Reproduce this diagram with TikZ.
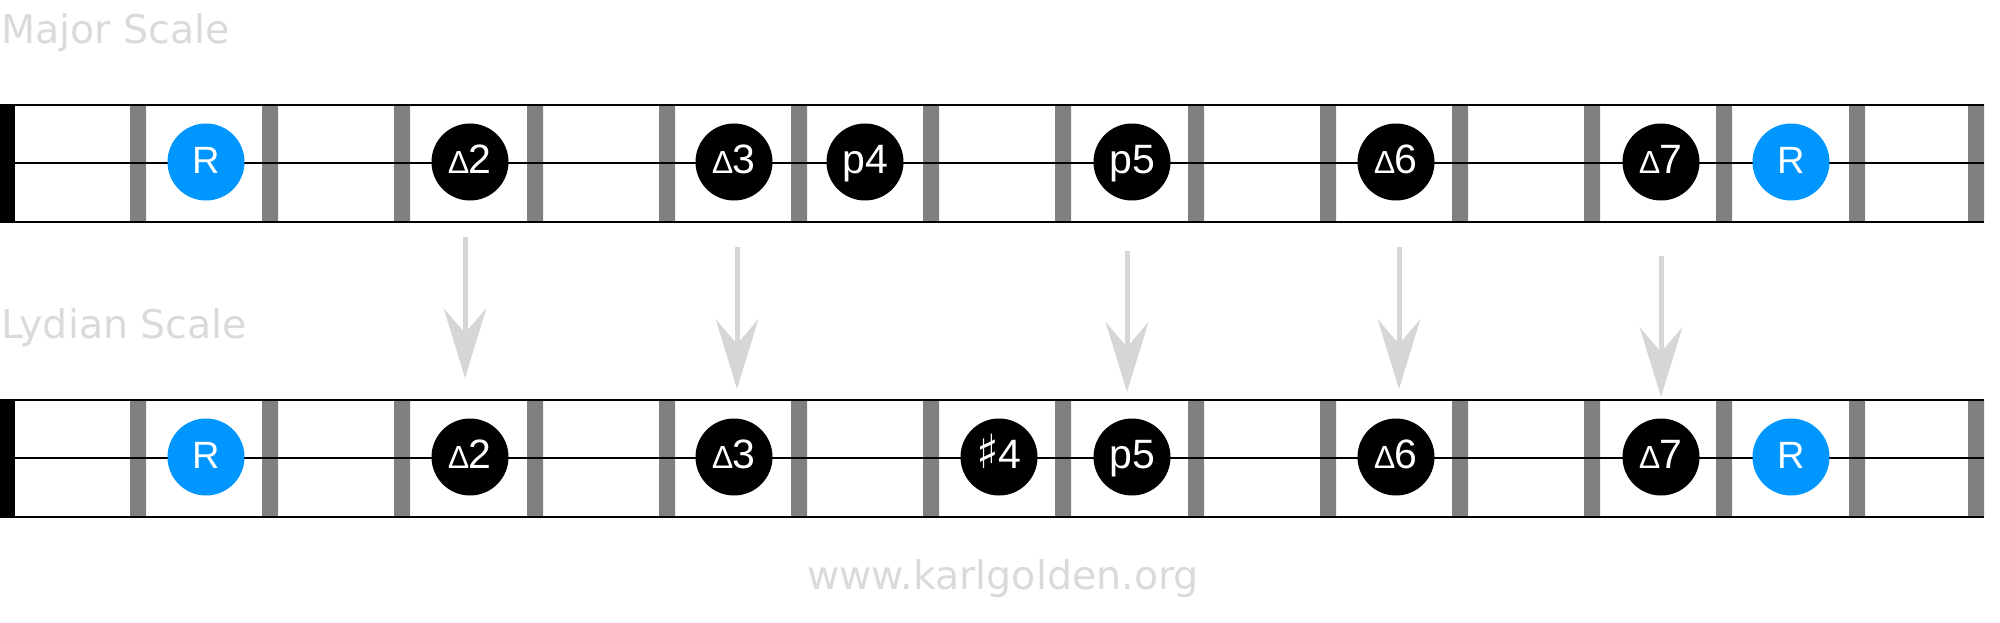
\documentclass[tikz,border=0pt]{standalone}
\usepackage{fontspec}
\setmainfont{DejaVu Sans}
\newfontfamily\notefont{Liberation Sans}
\newfontfamily\sharpfont{DejaVu Sans}
\usetikzlibrary{arrows.meta}
\definecolor{rootblue}{RGB}{0,150,255}
\definecolor{fretgray}{RGB}{128,128,128}
\definecolor{titlegray}{RGB}{218,218,218}
\definecolor{arrowgray}{RGB}{214,214,214}
\newcommand{\majtri}{{\fontsize{32}{32}\selectfont ∆}}
\newcommand{\shrp}{{\sharpfont\fontsize{47}{47}\selectfont ♯}}

\begin{document}
\begin{tikzpicture}[x=1pt,y=-1pt,
  note/.style={circle, fill=black, text=white, inner sep=0pt, minimum size=77pt,
    text height=29pt, text depth=7pt, font=\notefont\fontsize{41}{41}\selectfont},
  root/.style={note, fill=rootblue, font=\notefont\fontsize{38}{38}\selectfont},
  title/.style={text=titlegray, inner sep=0pt, font=\fontsize{39.5}{40}\selectfont},
  fret/.style={fill=fretgray},
  wire/.style={line width=2.5pt},
  move/.style={line width=5pt, arrowgray,
    -{Stealth[length=70pt, width=43pt, inset=25pt, line width=0pt]}}]
\useasboundingbox (0,0) rectangle (2000,623);

\node[title, anchor=base west] (major) at (1,43.5) {Major Scale};
\node[title, anchor=base west] (lydian) at (1,338) {Lydian Scale};
\node[title, anchor=base] (site) at (1003,589) {www.karlgolden.org};

% major board
\fill[fret] (130,105) rectangle (146,222) (262,105) rectangle (278,222)
  (394,105) rectangle (410,222) (527,105) rectangle (543,222)
  (659,105) rectangle (675,222) (791,105) rectangle (807,222)
  (923,105) rectangle (939,222) (1055,105) rectangle (1071,222)
  (1188,105) rectangle (1204,222) (1320,105) rectangle (1336,222)
  (1452,105) rectangle (1468,222) (1584,105) rectangle (1600,222)
  (1716,105) rectangle (1732,222) (1849,105) rectangle (1865,222)
  (1968,105) rectangle (1984,222);
\fill (0,105) rectangle (15,222);
\draw[wire] (0,105) -- (1984,105);
\draw[wire] (0,163) -- (1984,163);
\draw[wire] (0,222) -- (1984,222);

\node[root] (m1) at (206,162) {R};
\node[note] (m2) at (470,162) {\majtri2};
\node[note] (m3) at (734,162) {\majtri3};
\node[note] (m4) at (865,162) {p4};
\node[note] (m5) at (1132,162) {p5};
\node[note] (m6) at (1396,162) {\majtri6};
\node[note] (m7) at (1661,162) {\majtri7};
\node[root] (m8) at (1791,162) {R};

% lydian board
\fill[fret] (130,400) rectangle (146,517) (262,400) rectangle (278,517)
  (394,400) rectangle (410,517) (527,400) rectangle (543,517)
  (659,400) rectangle (675,517) (791,400) rectangle (807,517)
  (923,400) rectangle (939,517) (1055,400) rectangle (1071,517)
  (1188,400) rectangle (1204,517) (1320,400) rectangle (1336,517)
  (1452,400) rectangle (1468,517) (1584,400) rectangle (1600,517)
  (1716,400) rectangle (1732,517) (1849,400) rectangle (1865,517)
  (1968,400) rectangle (1984,517);
\fill (0,400) rectangle (15,517);
\draw[wire] (0,400) -- (1984,400);
\draw[wire] (0,458) -- (1984,458);
\draw[wire] (0,517) -- (1984,517);

\node[root] (l1) at (206,457) {R};
\node[note] (l2) at (470,457) {\majtri2};
\node[note] (l3) at (734,457) {\majtri3};
\node[note] (l4) at (999,457) {\shrp4};
\node[note] (l5) at (1132,457) {p5};
\node[note] (l6) at (1396,457) {\majtri6};
\node[note] (l7) at (1661,457) {\majtri7};
\node[root] (l8) at (1791,457) {R};

% arrows
\coordinate (a2) at (465,237);
\coordinate (b2) at (465,378);
\coordinate (a3) at (737,247);
\coordinate (b3) at (737,389);
\coordinate (a5) at (1127,251);
\coordinate (b5) at (1127,392);
\coordinate (a6) at (1399,247);
\coordinate (b6) at (1399,389);
\coordinate (a7) at (1661,256);
\coordinate (b7) at (1661,397);
\draw[move] (a2) -- (b2);
\draw[move] (a3) -- (b3);
\draw[move] (a5) -- (b5);
\draw[move] (a6) -- (b6);
\draw[move] (a7) -- (b7);
\end{tikzpicture}
\end{document}
